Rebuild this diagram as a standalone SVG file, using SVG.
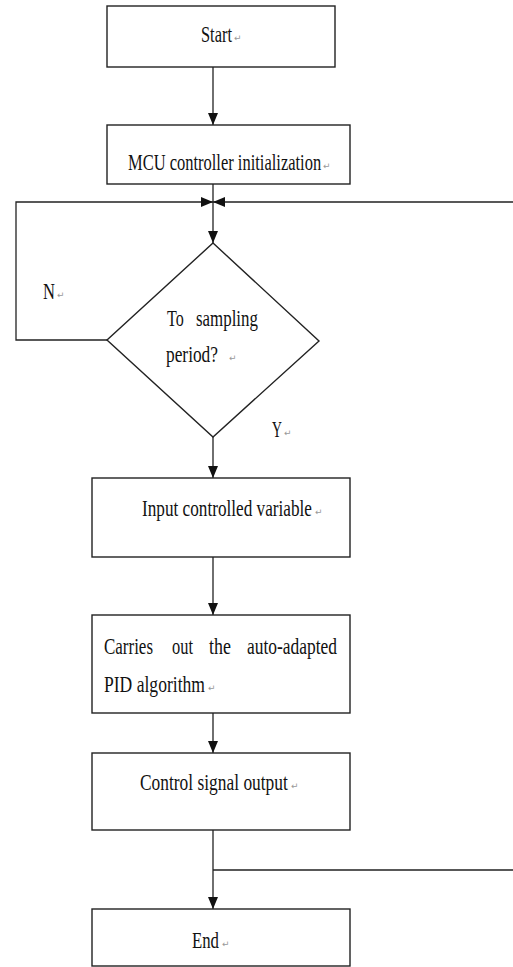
<svg xmlns="http://www.w3.org/2000/svg" width="513" height="967" viewBox="0 0 513 967">
<style>
.box{fill:#fff;stroke:#222;stroke-width:1.4}
.ln{fill:none;stroke:#222;stroke-width:1.3}
.t{font-family:"Liberation Serif","Times New Roman",serif;font-size:23px;fill:#111}
.r{font-family:"DejaVu Sans",sans-serif;font-size:9px;fill:#999}
</style>
<defs>
<marker id="ah" markerUnits="userSpaceOnUse" markerWidth="12" markerHeight="10" refX="12" refY="5" orient="auto">
<path d="M0,0 L12,5 L0,10 z" fill="#111"/>
</marker>
</defs>
<rect width="513" height="967" fill="#fff"/>
<g id="connectors">
<line class="ln" x1="213" y1="67" x2="213" y2="125" marker-end="url(#ah)"/>
<line class="ln" x1="213" y1="184" x2="213" y2="243" marker-end="url(#ah)"/>
<path class="ln" d="M107,340 H16 V202 H213" marker-end="url(#ah)"/>
<path class="ln" d="M213,870 H515 V202 H213" marker-end="url(#ah)"/>
<line class="ln" x1="213" y1="437" x2="213" y2="478" marker-end="url(#ah)"/>
<line class="ln" x1="213" y1="557" x2="213" y2="615" marker-end="url(#ah)"/>
<line class="ln" x1="213" y1="713" x2="213" y2="753" marker-end="url(#ah)"/>
<line class="ln" x1="213" y1="830" x2="213" y2="909" marker-end="url(#ah)"/>
<text class="t" transform="translate(43,299) scale(0.72,1)">N</text>
<text class="r" x="57" y="298">↵</text>
<text class="t" transform="translate(272,437) scale(0.6,1)">Y</text>
<text class="r" x="284" y="436">↵</text>
</g>
<g id="start">
<rect class="box" x="107" y="6" width="228" height="61"/>
<text class="t" transform="translate(201,42) scale(0.713,1)">Start</text>
<text class="r" x="234" y="41">↵</text>
</g>
<g id="init">
<rect class="box" x="107" y="125" width="243" height="59"/>
<text class="t" transform="translate(128,170) scale(0.717,1)">MCU controller initialization</text>
<text class="r" x="323" y="169">↵</text>
</g>
<g id="decision">
<polygon class="box" points="213,243 319,341 213,437 107,340"/>
<text class="t" transform="translate(167,326) scale(0.70,1)">To</text>
<text class="t" transform="translate(196,326) scale(0.735,1)">sampling</text>
<text class="t" transform="translate(166,362) scale(0.754,1)">period?</text>
<text class="r" x="229" y="361">↵</text>
</g>
<g id="input">
<rect class="box" x="92" y="478" width="258" height="79"/>
<text class="t" transform="translate(142,516) scale(0.748,1)">Input controlled variable</text>
<text class="r" x="315" y="515">↵</text>
</g>
<g id="pid">
<rect class="box" x="92" y="615" width="258" height="98"/>
<text class="t" transform="translate(104,654) scale(0.738,1)">Carries</text>
<text class="t" transform="translate(172,654) scale(0.714,1)">out</text>
<text class="t" transform="translate(209,654) scale(0.78,1)">the</text>
<text class="t" transform="translate(247,654) scale(0.758,1)">auto-adapted</text>
<text class="t" transform="translate(104,692) scale(0.764,1)">PID algorithm</text>
<text class="r" x="208" y="691">↵</text>
</g>
<g id="output">
<rect class="box" x="92" y="753" width="258" height="77"/>
<text class="t" transform="translate(140,790) scale(0.757,1)">Control signal output</text>
<text class="r" x="291" y="789">↵</text>
</g>
<g id="end">
<rect class="box" x="92" y="909" width="258" height="57"/>
<text class="t" transform="translate(192,948) scale(0.729,1)">End</text>
<text class="r" x="222" y="947">↵</text>
</g>
</svg>
